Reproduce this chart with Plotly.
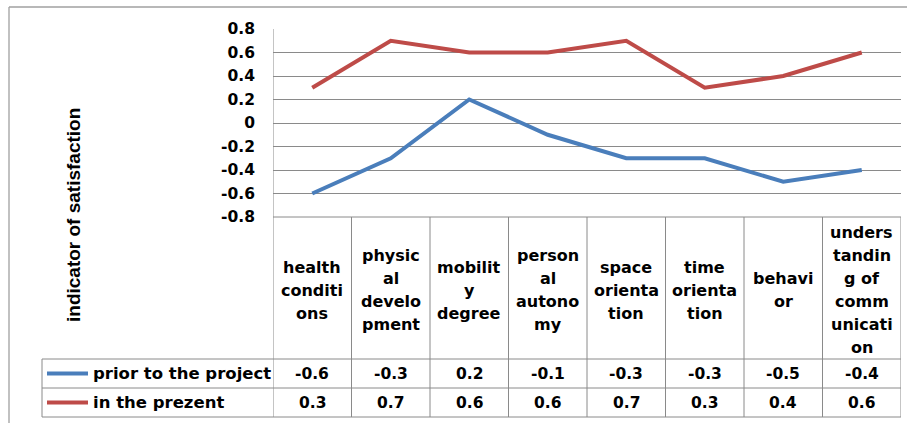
import plotly.graph_objects as go

# ---------------- data ----------------
categories = ["health conditions", "physical development", "mobility degree",
              "personal autonomy", "space orientation", "time orientation",
              "behavior", "understanding of communication"]
header_labels = ["health<br>conditi<br>ons", "physic<br>al<br>develo<br>pment",
                 "mobilit<br>y<br>degree", "person<br>al<br>autono<br>my",
                 "space<br>orienta<br>tion", "time<br>orienta<br>tion",
                 "behavi<br>or",
                 "unders<br>tandin<br>g of<br>comm<br>unicati<br>on"]
prior = [-0.6, -0.3, 0.2, -0.1, -0.3, -0.3, -0.5, -0.4]
present = [0.3, 0.7, 0.6, 0.6, 0.7, 0.3, 0.4, 0.6]
series_names = ["prior to the project", "in the prezent"]
y_ticks = [0.8, 0.6, 0.4, 0.2, 0, -0.2, -0.4, -0.6, -0.8]
y_tick_text = ["0.8", "0.6", "0.4", "0.2", "0", "-0.2", "-0.4", "-0.6", "-0.8"]
axis_title = "indicator of satisfaction"

# ---------------- style ----------------
W, H = 907, 423
BLUE = "#4A7EBB"
RED = "#BE4B48"
GRID = "#8A8A8A"
FRAME = "#A0A0A0"
TXT = "#000000"
FONT = "DejaVu Sans"
FS = 15.5
LW = 4


def px(x):
    return x / W


def py(y):
    return 1 - y / H


PLOT_L, PLOT_R, PLOT_T, PLOT_B = 273, 901, 29, 217
HEAD_B, ROW1_B, ROW2_B = 359, 388, 417
LEG_L = 42

fig = go.Figure()
series = [(series_names[0], prior, BLUE), (series_names[1], present, RED)]
for name, vals, col in series:
    fig.add_trace(go.Scatter(x=categories, y=vals, mode="lines", name=name,
                             line=dict(color=col, width=LW), showlegend=False,
                             hoverinfo="x+y"))

shapes = []
# outer chart frame
shapes.append(dict(type="line", xref="paper", yref="paper", x0=px(9), x1=px(9),
                   y0=py(7), y1=0, line=dict(color=FRAME, width=1.3)))
shapes.append(dict(type="line", xref="paper", yref="paper", x0=px(9), x1=1,
                   y0=py(7), y1=py(7), line=dict(color=FRAME, width=1.3)))
# table vertical dividers (category boundaries)
for i in range(len(categories) + 1):
    y_top = PLOT_T if i == 0 else PLOT_B
    shapes.append(dict(type="line", xref="x", yref="paper", x0=i - 0.5, x1=i - 0.5,
                       y0=py(y_top), y1=py(ROW2_B), line=dict(color=GRID, width=1)))
# legend column left border
shapes.append(dict(type="line", xref="paper", yref="paper", x0=px(LEG_L), x1=px(LEG_L),
                   y0=py(HEAD_B), y1=py(ROW2_B), line=dict(color=GRID, width=1)))
# horizontal table lines
shapes.append(dict(type="line", xref="paper", yref="paper", x0=px(PLOT_L), x1=px(PLOT_R),
                   y0=py(PLOT_B), y1=py(PLOT_B), line=dict(color=GRID, width=1)))
for yy in (HEAD_B, ROW1_B, ROW2_B):
    shapes.append(dict(type="line", xref="paper", yref="paper", x0=px(LEG_L), x1=px(PLOT_R),
                       y0=py(yy), y1=py(yy), line=dict(color=GRID, width=1)))
# legend keys
row_centers = [(HEAD_B + ROW1_B) / 2, (ROW1_B + ROW2_B) / 2]
for (name, vals, col), rc in zip(series, row_centers):
    shapes.append(dict(type="line", xref="paper", yref="paper", x0=px(47), x1=px(88),
                       y0=py(rc), y1=py(rc), line=dict(color=col, width=LW)))

annotations = []
# header labels (one annotation per line to control leading)
HEAD_C = 290
LEAD = 23
for i, lab in enumerate(header_labels):
    parts = lab.split("<br>")
    n = len(parts)
    for k, p in enumerate(parts):
        yy = HEAD_C + (k - (n - 1) / 2) * LEAD
        annotations.append(dict(x=categories[i], xref="x", y=py(yy), yref="paper",
                                text=p, showarrow=False, xanchor="center", yanchor="middle",
                                font=dict(family=FONT, size=FS + 0.5, color=TXT, weight="bold")))
# data table values + legend names
for (name, vals, col), rc in zip(series, row_centers):
    annotations.append(dict(x=px(91), xref="paper", y=py(rc), yref="paper", text=name,
                            showarrow=False, xanchor="left", yanchor="middle",
                            font=dict(family=FONT, size=16.5, color=TXT, weight="bold")))
    for c, v in zip(categories, vals):
        annotations.append(dict(x=c, xref="x", y=py(rc), yref="paper", text=f"{v:g}",
                                showarrow=False, xanchor="center", yanchor="middle",
                                font=dict(family=FONT, size=FS, color=TXT, weight="bold")))
# axis title
annotations.append(dict(x=px(74), xref="paper", y=py(215), yref="paper", text=axis_title,
                        textangle=-90, showarrow=False, xanchor="center", yanchor="middle",
                        font=dict(family="Liberation Sans, Arial", size=19, color=TXT,
                                  weight="bold")))

fig.update_layout(
    width=W, height=H,
    margin=dict(l=0, r=0, t=0, b=0, pad=0, autoexpand=False),
    paper_bgcolor="white", plot_bgcolor="white",
    shapes=shapes, annotations=annotations,
    xaxis=dict(domain=[px(PLOT_L), px(PLOT_R)], type="category",
               categoryorder="array", categoryarray=categories,
               range=[-0.5, len(categories) - 0.5], showticklabels=False,
               showgrid=False, zeroline=False, showline=False, ticks="",
               automargin=False),
    yaxis=dict(domain=[py(PLOT_B), py(PLOT_T)], range=[-0.8, 0.8],
               tickvals=y_ticks, ticktext=y_tick_text, showgrid=True,
               gridcolor=GRID, gridwidth=1, zeroline=False, showline=False,
               ticks="", ticklabelstandoff=17, automargin=False,
               tickfont=dict(family=FONT, size=FS, color=TXT, weight="bold")),
    showlegend=False,
)

fig.write_html("out.html", config={"displayModeBar": False},
               post_script="document.body.style.margin='0';document.body.style.padding='0';")
